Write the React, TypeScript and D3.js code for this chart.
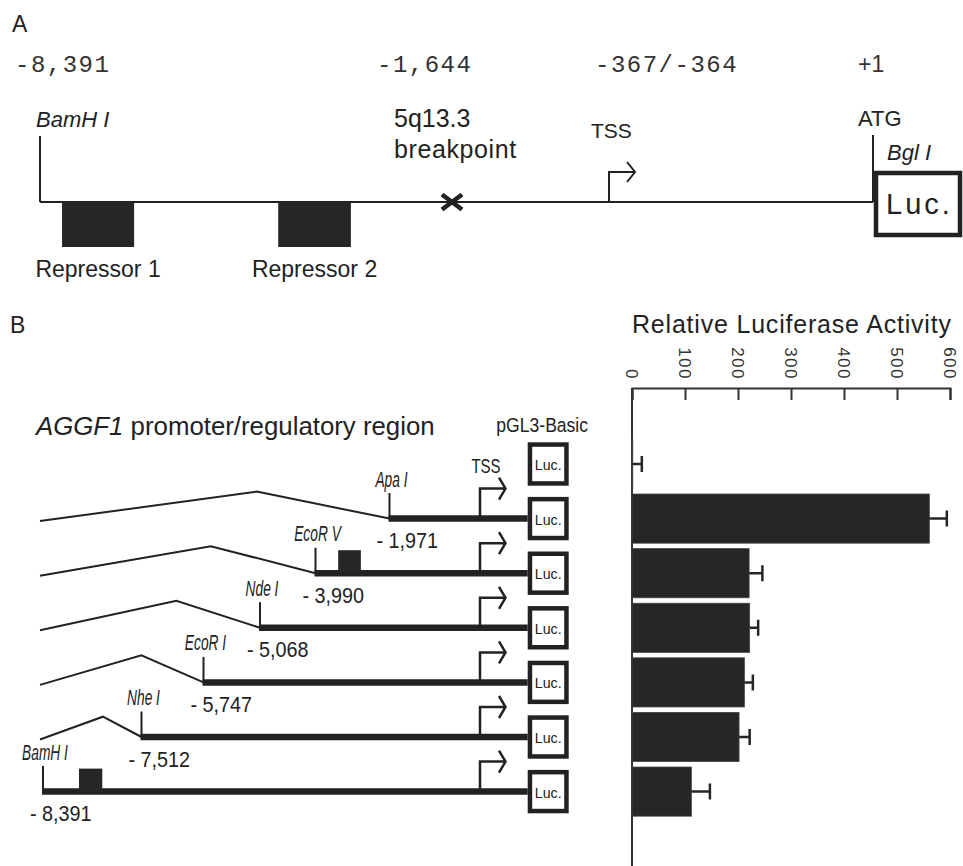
import React, { useRef, useEffect } from 'react';
import * as d3 from 'd3';

// panel A: full length promoter map (bp relative to ATG)
const mapSites = [-8391, -1644, -367, 0];
const mapTopLabels = ['-8,391', '-1,644', '-367/-364', '+1'];
const repressorNames = ['Repressor 1', 'Repressor 2'];
const repressorStart = [-8030, -4490];
const repressorEnd = [-6850, -3300];

// panel B: deletion constructs
const constructs = ['pGL3-Basic', '-1,971', '-3,990', '-5,068', '-5,747', '-7,512', '-8,391'];
const cutSites = [null, -1971, -3990, -5068, -5747, -7512, -8391];
const enzymes = [null, 'Apa I', 'EcoR V', 'Nde I', 'EcoR I', 'Nhe I', 'BamH I'];
const boxConstructs = ['-3,990', '-8,391'];
const boxStart = [-3371, -8070];
const boxEnd = [-2752, -7862];

// relative luciferase activity
const activity = [1.5, 561, 221, 222, 212, 202, 112];
const activityErr = [17, 33, 25, 16, 16, 20, 35];
const activityTicks = [0, 100, 200, 300, 400, 500, 600];

const W = 963;
const H = 866;
const ink = '#222';
const sans = '"Liberation Sans", Arial, Helvetica, sans-serif';
const mono = '"Liberation Mono", "Courier New", monospace';

const App = () => {
    const svgRef = useRef<SVGSVGElement>(null);

    useEffect(() => {
        draw();
    }, []);

    const draw = () => {
        const svg = d3.select(svgRef.current);
        svg.selectAll('*').remove();
        svg.attr('font-family', sans).attr('fill', ink);

        // ---------------- A ----------------
        const xA = d3.scaleLinear().domain(mapSites).range([40, 452, 609, 873]);
        const lineY = 202;
        const a = svg.append('g');

        a.append('text').attr('x', 12).attr('y', 32).attr('font-size', 23).text('A');

        const topDx = [-25, -75, -14, -15];
        a.selectAll('.coord')
            .data(mapTopLabels)
            .enter()
            .append('text')
            .attr('class', 'coord')
            .attr('x', (d, i) => xA(mapSites[i]) + topDx[i])
            .attr('y', 72)
            .attr('font-family', (d, i) => (i === 3 ? sans : mono))
            .attr('font-size', (d, i) => (i === 3 ? 23 : 24))
            .attr('letter-spacing', (d, i) => (i === 3 ? 0 : 1.5))
            .attr('fill', '#333')
            .text((d) => d);

        a.append('line')
            .attr('x1', xA(-8391)).attr('x2', xA(0))
            .attr('y1', lineY).attr('y2', lineY)
            .attr('stroke', ink).attr('stroke-width', 2);

        // BamH I site
        a.append('line')
            .attr('x1', xA(-8391)).attr('x2', xA(-8391))
            .attr('y1', 136).attr('y2', lineY)
            .attr('stroke', ink).attr('stroke-width', 2);
        a.append('text')
            .attr('x', xA(-8391) - 4).attr('y', 127)
            .attr('font-size', 22).attr('font-style', 'italic')
            .text('BamH I');

        // repressors
        a.selectAll('.rep')
            .data(repressorNames)
            .enter()
            .append('rect')
            .attr('class', 'rep')
            .attr('x', (d, i) => xA(repressorStart[i]))
            .attr('y', lineY)
            .attr('width', (d, i) => xA(repressorEnd[i]) - xA(repressorStart[i]))
            .attr('height', 45)
            .attr('fill', '#262626');
        a.selectAll('.rep-label')
            .data(repressorNames)
            .enter()
            .append('text')
            .attr('class', 'rep-label')
            .attr('x', (d, i) => (xA(repressorStart[i]) + xA(repressorEnd[i])) / 2)
            .attr('y', 277)
            .attr('text-anchor', 'middle')
            .attr('font-size', 23)
            .text((d) => d);

        // breakpoint cross
        const bx = xA(-1644);
        a.append('path')
            .attr('d', `M${bx - 10},${lineY - 7.5}L${bx + 10},${lineY + 7.5}M${bx - 10},${lineY + 7.5}L${bx + 10},${lineY - 7.5}`)
            .attr('stroke', ink).attr('stroke-width', 4.5).attr('fill', 'none');
        a.append('text').attr('x', bx - 58).attr('y', 127).attr('font-size', 25).text('5q13.3');
        a.append('text').attr('x', bx - 58).attr('y', 158).attr('font-size', 25).attr('letter-spacing', 0.6).text('breakpoint');

        // TSS
        const tx = xA(-367);
        const tTop = 172;
        a.append('path')
            .attr('d', `M${tx},${lineY}V${tTop}H${tx + 26}M${tx + 18},${tTop - 10}L${tx + 26},${tTop}L${tx + 18},${tTop + 10}`)
            .attr('stroke', ink).attr('stroke-width', 2).attr('fill', 'none');
        a.append('text').attr('x', tx - 18).attr('y', 138).attr('font-size', 21).text('TSS');

        // ATG / Bgl I / Luc.
        const gx = xA(0);
        a.append('line')
            .attr('x1', gx).attr('x2', gx).attr('y1', 135).attr('y2', lineY)
            .attr('stroke', ink).attr('stroke-width', 2);
        a.append('text').attr('x', gx - 15).attr('y', 126).attr('font-size', 22).text('ATG');
        a.append('text').attr('x', gx + 14).attr('y', 160).attr('font-size', 22).attr('font-style', 'italic').text('Bgl I');
        a.append('rect')
            .attr('x', gx + 3).attr('y', 173).attr('width', 84).attr('height', 62)
            .attr('fill', '#fff').attr('stroke', ink).attr('stroke-width', 4.5);
        a.append('text')
            .attr('x', gx + 13).attr('y', 214)
            .attr('font-size', 29).attr('letter-spacing', 3)
            .text('Luc.');

        // ---------------- B ----------------
        const b = svg.append('g');
        b.append('text').attr('x', 10).attr('y', 333).attr('font-size', 23).text('B');

        const title = b.append('text').attr('x', 36).attr('y', 435).attr('font-size', 25.8);
        title.append('tspan').attr('font-style', 'italic').text('AGGF1');
        title.append('tspan').text(' promoter/regulatory region');

        const xB = d3.scaleLinear()
            .domain([-8391, -7512, -5747, -5068, -3990, -1971, -367, 0])
            .range([43, 141.5, 203.5, 260, 315.5, 389.5, 480, 527.7]);

        const y = d3.scaleBand()
            .domain(constructs)
            .range([436.7, 818.9])
            .paddingInner(0.1)
            .paddingOuter(0.05);
        const cy = (i: number) => (y(constructs[i]) as number) + y.bandwidth() / 2;

        const narrow = (g: any, x: number, yy: number, sx: number, size: number, txt: string, italic = false, anchor = 'middle') => {
            g.append('text')
                .attr('transform', `translate(${x},${yy}) scale(${sx},1)`)
                .attr('text-anchor', anchor)
                .attr('font-size', size)
                .attr('font-style', italic ? 'italic' : 'normal')
                .text(txt);
        };

        const boxX = xB(0);
        const boxW = 41;
        const boxH = 43.4;
        narrow(b, boxX + boxW / 2 - 6, 431.7, 0.9, 19.5, 'pGL3-Basic');

        const startX = xB(-8391) - 3;
        const fmt = d3.format(',');

        constructs.forEach((name, i) => {
            const c = cy(i);
            const cut = cutSites[i];
            if (cut !== null) {
                const cx = xB(cut);
                // deleted upstream region
                if (cx - startX > 20) {
                    const span = cx - startX;
                    const h = Math.min(27, span * 0.2);
                    b.append('path')
                        .attr('d', `M${startX},${c + 2.5}L${startX + span * 0.62},${c - h}L${cx},${c}`)
                        .attr('stroke', ink).attr('stroke-width', 2).attr('fill', 'none');
                }
                // cloned fragment
                b.append('line')
                    .attr('x1', cx - 1).attr('x2', boxX).attr('y1', c).attr('y2', c)
                    .attr('stroke', ink).attr('stroke-width', 6.5);
                // restriction site
                b.append('line')
                    .attr('x1', cx).attr('x2', cx).attr('y1', c).attr('y2', c - 25.5)
                    .attr('stroke', ink).attr('stroke-width', 2);
                narrow(b, cx + 2, c - 32, 0.64, 21.5, enzymes[i] as string, true);
                narrow(b, cx - 13, c + 29.5, 0.9, 22, `- ${fmt(-cut)}`, false, 'start');
                // TSS arrow
                const ax = xB(-367);
                const top = c - 30;
                b.append('path')
                    .attr('d', `M${ax},${c}V${top}H${ax + 25}M${ax + 19},${top - 11}L${ax + 25.5},${top}L${ax + 19},${top + 11}`)
                    .attr('stroke', ink).attr('stroke-width', 2.5).attr('fill', 'none');
                if (i === 1) narrow(b, ax + 6, 472.5, 0.73, 20.5, 'TSS');
            }
            const k = boxConstructs.indexOf(name);
            if (k >= 0) {
                b.append('rect')
                    .attr('x', xB(boxStart[k])).attr('y', c - 23)
                    .attr('width', xB(boxEnd[k]) - xB(boxStart[k])).attr('height', 23)
                    .attr('fill', '#262626');
            }
            // luciferase box
            b.append('rect')
                .attr('x', boxX + 2.25).attr('y', c - boxH / 2 + 2.25)
                .attr('width', boxW - 4.5).attr('height', boxH - 4.5)
                .attr('fill', '#fff').attr('stroke', ink).attr('stroke-width', 4.5);
            narrow(b, boxX + boxW / 2, c + 6, 0.95, 15, 'Luc.');
        });

        // ---------------- bar chart ----------------
        const xBar = d3.scaleLinear().domain([0, 600]).range([632, 950]);
        const axisY = 388;
        const chart = svg.append('g');

        chart.append('text')
            .attr('x', xBar(0)).attr('y', 333)
            .attr('font-size', 25).attr('letter-spacing', 0.8)
            .text('Relative Luciferase Activity');

        const axis = d3.axisTop(xBar).tickValues(activityTicks).tickSize(-12).tickFormat(() => '');
        const ag = chart.append('g').attr('transform', `translate(0,${axisY})`).call(axis);
        ag.select('.domain').attr('stroke', '#333').attr('stroke-width', 2);
        ag.selectAll('.tick line').attr('stroke', '#333').attr('stroke-width', 2);

        chart.selectAll('.tick-label')
            .data(activityTicks)
            .enter()
            .append('text')
            .attr('class', 'tick-label')
            .attr('transform', (d) => `translate(${xBar(d)},380) rotate(90)`)
            .attr('text-anchor', 'end')
            .attr('dy', '0.35em')
            .attr('font-size', 17)
            .attr('letter-spacing', 1.5)
            .attr('fill', '#333')
            .text((d) => d);

        chart.append('line')
            .attr('x1', xBar(0)).attr('x2', xBar(0))
            .attr('y1', axisY).attr('y2', H)
            .attr('stroke', '#333').attr('stroke-width', 2);

        chart.selectAll('.bar')
            .data(activity)
            .enter()
            .append('rect')
            .attr('class', 'bar')
            .attr('x', xBar(0))
            .attr('y', (d, i) => y(constructs[i]) as number)
            .attr('width', (d) => xBar(d) - xBar(0))
            .attr('height', y.bandwidth())
            .attr('fill', '#262626')
            .attr('stroke', '#444')
            .attr('stroke-width', 0.8);

        chart.selectAll('.err')
            .data(activity)
            .enter()
            .append('path')
            .attr('class', 'err')
            .attr('d', (d, i) => {
                const c = cy(i);
                const x1 = xBar(d);
                const x2 = xBar(d + activityErr[i]);
                return `M${x1},${c}H${x2}M${x2},${c - 8}V${c + 8}`;
            })
            .attr('stroke', '#262626')
            .attr('stroke-width', 2.5)
            .attr('fill', 'none');
    };

    return (
        <svg
            ref={svgRef}
            width={W}
            height={H}
            style={{ position: 'absolute', left: 0, top: 0, display: 'block', background: '#fff' }}
        ></svg>
    );
};

export default App;
